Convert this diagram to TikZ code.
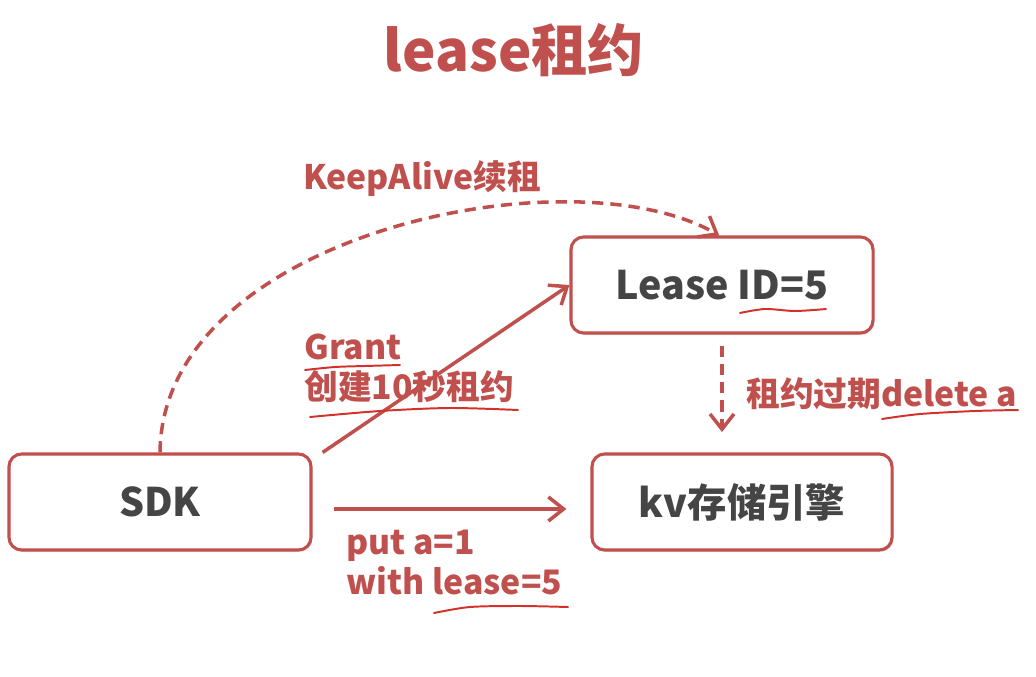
\documentclass[tikz,border=0pt]{standalone}
\usepackage{fontspec}
\setmainfont{Noto Sans CJK SC}
\usetikzlibrary{arrows.meta,positioning,shadows}
\definecolor{leasered}{HTML}{C0504D}
\definecolor{boxtext}{HTML}{454545}
\definecolor{penred}{HTML}{D2312C}
\tikzset{
  roundbox/.style={draw=leasered, line width=2.2pt, fill=white, rounded corners=9pt,
                   minimum width=7.55cm, minimum height=2.4cm, text=boxtext,
                   font=\fontsize{28}{32}\selectfont\bfseries,
                   drop shadow={shadow xshift=1pt, shadow yshift=-1.5pt, opacity=0.2}},
  lbl/.style={text=leasered, font=\fontsize{24}{28}\selectfont\bfseries, align=left, inner sep=0pt},
  arr/.style={-{Straight Barb[length=3.8mm,width=6mm]}, line width=2.5pt, color=leasered},
  darr/.style={arr, dash pattern=on 8pt off 5pt},
  pen/.style={penred, line width=1.4pt, line cap=round}}
\begin{document}
\begin{tikzpicture}[x=0.025cm, y=-0.025cm]
  \useasboundingbox (0,0) rectangle (1036,676);
  \node[text=leasered, font=\fontsize{40}{44}\selectfont\bfseries] (title) at (514,50) {lease租约};
  % the three boxes
  \node[roundbox] (sdk) at (160,502) {SDK};
  \node[roundbox] (lease) at (722,285) {Lease ID=5};
  \node[roundbox, minimum width=7.5cm] (kv) at (742,502) {kv存储引擎};
  % labels
  \node[lbl, anchor=west] (keep) at (303,179) {KeepAlive续租};
  \node[lbl, anchor=north west] (grant) at (304,334) {Grant\\创建10秒租约};
  \node[lbl, anchor=west] (expire) at (746,394) {租约过期delete a};
  \node[lbl, anchor=north west] (put) at (346,530) {put a=1\\with lease=5};
  % connectors
  \coordinate (expireend) at (722,432);
  \draw[darr] (sdk.north) .. controls (162,235) and (570,150) .. ([xshift=-2]lease.north);
  \draw[arr] ([shift={(10,0)}]sdk.north east) -- (lease.west);
  \draw[darr] ([shift={(0,11)}]lease.south) -- (expireend);
  \draw[arr] ([shift={(21,7)}]sdk.east) -- ([shift={(-24,7)}]kv.west);
  % hand-drawn underlines
  \draw[pen] plot[smooth] coordinates {(740,313) (765,309) (795,311) (826,309)};
  \draw[pen] plot[smooth] coordinates {(305,370) (335,367) (365,366) (400,365)};
  \draw[pen] plot[smooth] coordinates {(310,417) (380,411) (450,408) (518,410)};
  \draw[pen] plot[smooth] coordinates {(882,419) (920,414) (975,411) (1018,410)};
  \draw[pen] plot[smooth] coordinates {(434,613) (470,607) (520,606) (568,607)};
\end{tikzpicture}
\end{document}
